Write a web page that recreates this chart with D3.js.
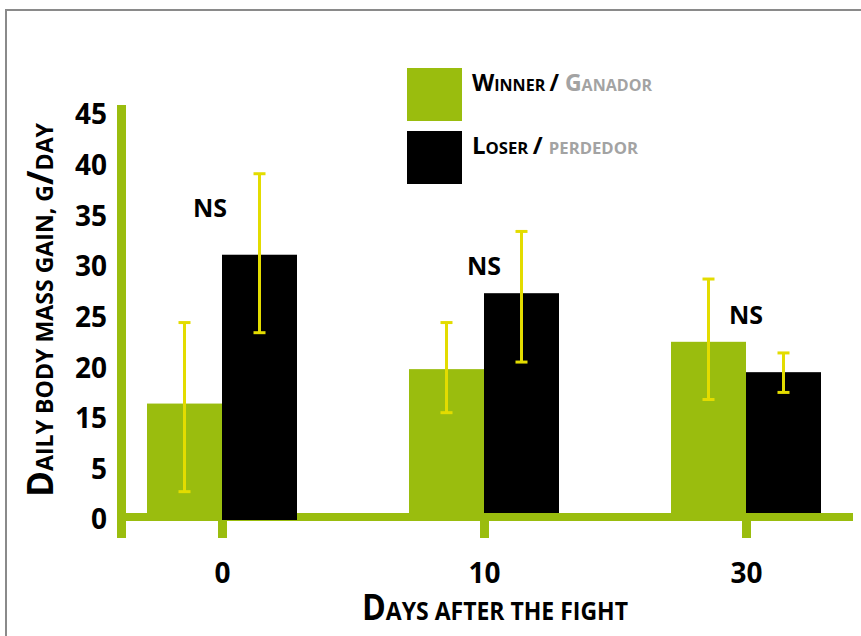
<!DOCTYPE html>
<html>
<head>
<meta charset="utf-8">
<script src="https://cdn.jsdelivr.net/npm/d3@7"></script>
<style>
  body { margin: 0; background: #fff; }
  svg { display: block; font-family: "Open Sans", sans-serif; font-weight: 700; }
</style>
</head>
<body>
<div id="chart"></div>
<script>
// datos (g/dia)
var days = ["0", "10", "30"];
var winner = [16.5, 19.9, 22.6];
var winnerLo = [2.8, 15.6, 16.9];
var winnerHi = [24.5, 24.5, 28.8];
var loser = [31.2, 27.4, 19.6];
var loserLo = [23.5, 20.6, 17.6];
var loserHi = [39.2, 33.5, 21.5];
var nsValue = [34.9, 29.2, 24.4];
var nsText = ["NS", "NS", "NS"];
// the original axis skips "10"
var yTicks = [0, 5, 15, 20, 25, 30, 35, 40, 45];
var groups = ["winner", "loser"];

var width = 861, height = 636;
var green = "#9abd0e", yellow = "#e3dc00", grey = "#a3a3a3";

var svg = d3.select("#chart")
    .append("svg")
    .attr("width", width)
    .attr("height", height);

svg.append("rect")
    .attr("x", 6).attr("y", 10)
    .attr("width", 900).attr("height", 700)
    .attr("fill", "none")
    .attr("stroke", "#8a8a8a")
    .attr("stroke-width", 2);

var x = d3.scalePoint().domain(days).range([222, 746]);
var xSub = d3.scaleBand().domain(groups).range([-75, 75]);

// labels are evenly spaced, so the scale is piecewise
var yPos = d3.scalePoint().domain(yTicks).range([520, 115]);
var y = d3.scaleLinear().domain(yTicks).range(yTicks.map(yPos));

var rows = days.map(function (d, i) {
    return [
        { day: d, g: "winner", v: winner[i], lo: winnerLo[i], hi: winnerHi[i] },
        { day: d, g: "loser", v: loser[i], lo: loserLo[i], hi: loserHi[i] }
    ];
});
var flat = d3.merge(rows);

var bars = svg.append("g").selectAll("rect")
    .data(flat)
    .enter()
    .append("rect")
    .attr("x", d => x(d.day) + xSub(d.g))
    .attr("y", d => y(d.v))
    .attr("width", xSub.bandwidth())
    .attr("height", d => y(0) - y(d.v))
    .attr("fill", d => d.g == "winner" ? green : "#000");

// eje x
var xAxis = svg.append("g")
    .attr("transform", "translate(0,513)")
    .call(d3.axisBottom(x).tickSize(25).tickPadding(0));
xAxis.select(".domain").remove();
xAxis.selectAll("line")
    .attr("stroke", green)
    .attr("stroke-width", 9);
xAxis.selectAll("text")
    .attr("y", 70).attr("dy", 0)
    .attr("fill", "#000")
    .attr("font-size", 28)
    .attr("font-family", "Open Sans")
    .attr("font-weight", 700);

svg.append("rect")
    .attr("x", 117).attr("y", 513)
    .attr("width", 853 - 117).attr("height", 8)
    .attr("fill", green);

// la barra negra del dia 0 tapa la banda
var top0 = bars.filter(d => d.day == "0" && d.g == "loser").node();
svg.node().appendChild(top0);

// eje y
var yAxis = svg.append("g")
    .attr("transform", "translate(117,0)")
    .call(d3.axisLeft(y).tickValues(yTicks).tickSize(0).tickPadding(10));
yAxis.select(".domain").remove();
yAxis.selectAll("text")
    .attr("fill", "#000")
    .attr("font-size", 28)
    .attr("font-family", "Open Sans")
    .attr("font-weight", 700);

svg.append("rect")
    .attr("x", 117).attr("y", 105)
    .attr("width", 9).attr("height", 538 - 105)
    .attr("fill", green);

// barras de error
var err = svg.append("g").selectAll("g")
    .data(flat)
    .enter()
    .append("g")
    .attr("transform", d => "translate(" + (x(d.day) + xSub(d.g) + xSub.bandwidth() / 2) + ",0)")
    .attr("stroke", yellow)
    .attr("stroke-width", 3);
err.append("line")
    .attr("y1", d => y(d.lo)).attr("y2", d => y(d.hi));
err.append("line")
    .attr("x1", -6).attr("x2", 6)
    .attr("y1", d => y(d.hi)).attr("y2", d => y(d.hi));
err.append("line")
    .attr("x1", -6).attr("x2", 6)
    .attr("y1", d => y(d.lo)).attr("y2", d => y(d.lo));

svg.append("g").selectAll("text")
    .data(days)
    .enter()
    .append("text")
    .attr("x", (d, i) => x(d) - (i == 0 ? 12 : 0))
    .attr("y", (d, i) => y(nsValue[i]))
    .attr("text-anchor", "middle")
    .attr("font-size", 25)
    .text((d, i) => nsText[i]);

function smallCaps(sel, parts, big, small) {
    parts.forEach(function (p) {
        sel.append("tspan")
            .attr("font-size", p[1] ? big : small)
            .attr("fill", p[2] || "#000")
            .text(p[0]);
    });
}

// titulos
var yTitle = svg.append("text")
    .attr("transform", "translate(53,310) rotate(-90)")
    .attr("text-anchor", "middle")
    .attr("textLength", 374)
    .attr("lengthAdjust", "spacingAndGlyphs");
smallCaps(yTitle, [["D", 1], ["AILY BODY MASS GAIN, G", 0], ["/", 1], ["DAY", 0]], 35, 23);

var xTitle = svg.append("text")
    .attr("x", 495).attr("y", 620)
    .attr("text-anchor", "middle")
    .attr("textLength", 266)
    .attr("lengthAdjust", "spacingAndGlyphs");
smallCaps(xTitle, [["D", 1], ["AYS AFTER THE FIGHT", 0]], 35, 25);

// leyenda
var legend = svg.append("g");
legend.append("rect").attr("x", 407).attr("y", 68).attr("width", 55).attr("height", 53).attr("fill", green);
legend.append("rect").attr("x", 407).attr("y", 131).attr("width", 55).attr("height", 53).attr("fill", "#000");

var l1 = legend.append("text").attr("x", 472).attr("y", 91)
    .attr("textLength", 180).attr("lengthAdjust", "spacingAndGlyphs");
smallCaps(l1, [["W", 1], ["INNER ", 0], ["/ ", 1], ["G", 1, grey], ["ANADOR", 0, grey]], 23, 16);

var l2 = legend.append("text").attr("x", 472).attr("y", 154)
    .attr("textLength", 166).attr("lengthAdjust", "spacingAndGlyphs");
smallCaps(l2, [["L", 1], ["OSER ", 0], ["/ ", 1], ["PERDEDOR", 0, grey]], 23, 16);
</script>
</body>
</html>
